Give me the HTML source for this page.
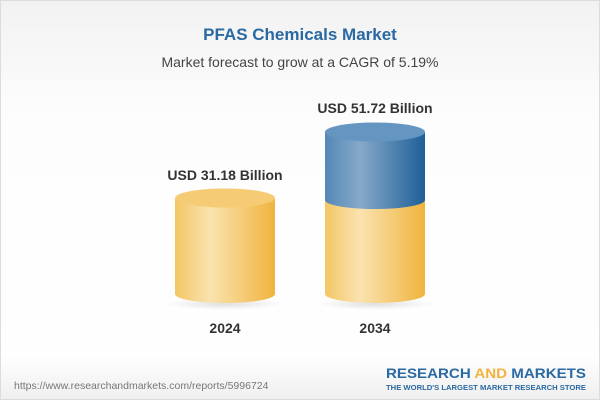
<!DOCTYPE html>
<html><head><meta charset="utf-8"><style>
body{margin:0;width:600px;height:400px;overflow:hidden}
</style></head><body>
<svg width="600" height="400" xmlns="http://www.w3.org/2000/svg" font-family="Liberation Sans, sans-serif">
<defs>
<linearGradient id="bg" x1="0" y1="0" x2="0" y2="1"><stop offset="0" stop-color="#f2f2f2"/><stop offset="0.3" stop-color="#fdfdfd"/><stop offset="1" stop-color="#ffffff"/></linearGradient>
<linearGradient id="ft" x1="0" y1="0" x2="0" y2="1"><stop offset="0" stop-color="#ffffff"/><stop offset="1" stop-color="#efefef"/></linearGradient>
<linearGradient id="yel" x1="0" y1="0" x2="1" y2="0"><stop offset="0" stop-color="#f3c665"/><stop offset="0.35" stop-color="#fae3b0"/><stop offset="1" stop-color="#f0b43e"/></linearGradient>
<linearGradient id="blu" x1="0" y1="0" x2="1" y2="0"><stop offset="0" stop-color="#5488b8"/><stop offset="0.35" stop-color="#86a9c9"/><stop offset="1" stop-color="#1f5f98"/></linearGradient>
<radialGradient id="sh" cx="0.5" cy="0.5" r="0.5"><stop offset="0" stop-color="#000" stop-opacity="0.12"/><stop offset="1" stop-color="#000" stop-opacity="0"/></radialGradient>
</defs>
<rect x="0.5" y="0.5" width="599" height="399" fill="url(#bg)" stroke="#dcdcdc"/>
<rect x="1" y="355" width="598" height="44" fill="url(#ft)"/>
<text x="300" y="40" text-anchor="middle" font-size="17" font-weight="bold" fill="#2a69a2">PFAS Chemicals Market</text>
<text x="300" y="67" text-anchor="middle" font-size="14" fill="#444">Market forecast to grow at a CAGR of 5.19%</text>
<ellipse cx="225" cy="304" rx="60" ry="6" fill="url(#sh)"/>
<path d="M175 198 L175 294 A50 9 0 0 0 275 294 L275 198 Z" fill="url(#yel)"/>
<ellipse cx="225" cy="198" rx="50" ry="9.5" fill="#f5cc75"/>
<text x="225" y="180" text-anchor="middle" font-size="14" font-weight="bold" fill="#333">USD 31.18 Billion</text>
<ellipse cx="375" cy="304" rx="60" ry="6" fill="url(#sh)"/>
<path d="M325 200 L325 294 A50 9 0 0 0 425 294 L425 200 Z" fill="url(#yel)"/>
<path d="M325 132 L325 200 A50 9 0 0 0 425 200 L425 132 Z" fill="url(#blu)"/>
<ellipse cx="375" cy="132" rx="50" ry="9.5" fill="#6595c1"/>
<text x="375" y="113" text-anchor="middle" font-size="14" font-weight="bold" fill="#333">USD 51.72 Billion</text>
<text x="225" y="333" text-anchor="middle" font-size="14" font-weight="bold" fill="#333">2024</text>
<text x="375" y="333" text-anchor="middle" font-size="14" font-weight="bold" fill="#333">2034</text>
<text x="14" y="389" font-size="10.5" fill="#777">https://www.researchandmarkets.com/reports/5996724</text>
<text x="386" y="378" font-size="14" font-weight="bold" fill="#2a69a2" textLength="200" lengthAdjust="spacingAndGlyphs">RESEARCH <tspan fill="#f0b43e">AND</tspan> MARKETS</text>
<text x="386" y="390" font-size="7" font-weight="bold" fill="#2a69a2" textLength="200" lengthAdjust="spacingAndGlyphs">THE WORLD'S LARGEST MARKET RESEARCH STORE</text>
</svg>
</body></html>
